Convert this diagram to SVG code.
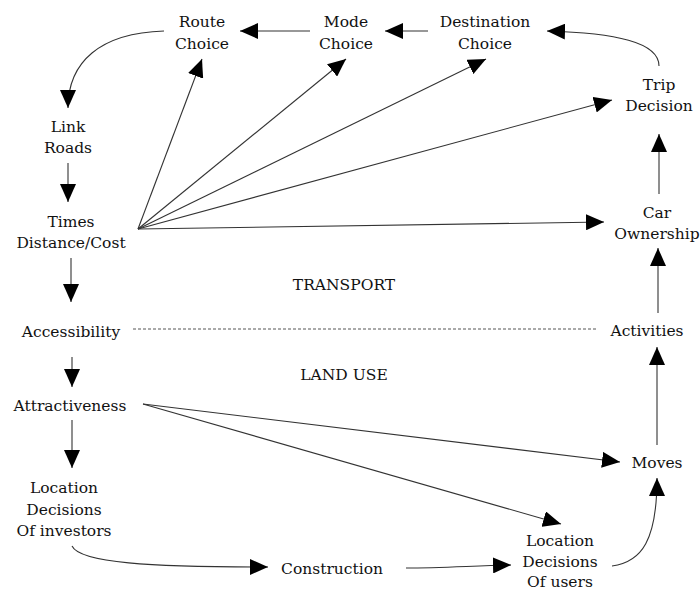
<svg xmlns="http://www.w3.org/2000/svg" width="700" height="591" viewBox="0 0 700 591">
  <style>
    text { font-family: "DejaVu Serif", "Liberation Serif", serif; font-size: 15.5px; fill: #111; text-anchor: middle; }
    .edge { fill: none; stroke: #333; stroke-width: 1.1; marker-end: url(#arrow); }
    .divider { fill: none; stroke: #555; stroke-width: 1; stroke-dasharray: 3 2; }
  </style>
  <defs>
    <marker id="arrow" markerUnits="userSpaceOnUse" markerWidth="18" markerHeight="16" refX="18" refY="8" orient="auto">
      <path d="M0,0 L18,8 L0,16 z" fill="#000"/>
    </marker>
  </defs>

  <rect width="700" height="591" fill="#fff"/>

  <!-- region labels -->
  <text x="344" y="290">TRANSPORT</text>
  <text x="344" y="380">LAND USE</text>

  <g id="connectors">
    <!-- boundary between transport and land use -->
    <line class="divider" x1="133" y1="329" x2="598" y2="329"/>

    <!-- transport chain -->
    <line class="edge" x1="310" y1="31" x2="240" y2="31"/>
    <line class="edge" x1="428" y1="31" x2="385" y2="31"/>
    <path class="edge" d="M659,66 C659,42 615,33 547,31"/>
    <path class="edge" d="M164,31 C100,33 68,62 68,108"/>
    <line class="edge" x1="68" y1="163" x2="68" y2="202"/>

    <!-- fan from times / distance / cost -->
    <line class="edge" x1="138" y1="229" x2="202" y2="59"/>
    <line class="edge" x1="138" y1="229" x2="346" y2="59"/>
    <line class="edge" x1="138" y1="229" x2="486" y2="59"/>
    <line class="edge" x1="138" y1="229" x2="612" y2="100"/>
    <line class="edge" x1="138" y1="229" x2="604" y2="222"/>

    <!-- land use chain -->
    <line class="edge" x1="71" y1="258" x2="71" y2="302"/>
    <line class="edge" x1="72" y1="357" x2="72" y2="387"/>
    <line class="edge" x1="72" y1="420" x2="72" y2="468"/>
    <line class="edge" x1="143" y1="404" x2="620" y2="462"/>
    <line class="edge" x1="143" y1="404" x2="561" y2="524"/>
    <path class="edge" d="M72,546 C80,563 150,567 268,567"/>
    <path class="edge" d="M406,568 C440,568 470,566 511,565"/>
    <path class="edge" d="M612,566 C642,562 657,540 657,478"/>
    <line class="edge" x1="657" y1="445" x2="657" y2="347"/>
    <line class="edge" x1="658" y1="313" x2="658" y2="248"/>
    <line class="edge" x1="659" y1="194" x2="659" y2="134"/>
  </g>

  <g id="route-choice"><text x="202" y="27">Route</text><text x="202" y="49">Choice</text></g>
  <g id="mode-choice"><text x="346" y="27">Mode</text><text x="346" y="49">Choice</text></g>
  <g id="destination-choice"><text x="485" y="27">Destination</text><text x="485" y="49">Choice</text></g>
  <g id="trip-decision"><text x="659" y="90">Trip</text><text x="659" y="111">Decision</text></g>
  <g id="car-ownership"><text x="657" y="218">Car</text><text x="657" y="239">Ownership</text></g>
  <g id="activities"><text x="647" y="336">Activities</text></g>
  <g id="moves"><text x="657" y="468">Moves</text></g>
  <g id="location-users"><text x="560" y="546">Location</text><text x="560" y="567">Decisions</text><text x="560" y="587">Of users</text></g>
  <g id="construction"><text x="332" y="574">Construction</text></g>
  <g id="location-investors"><text x="64" y="493">Location</text><text x="64" y="515">Decisions</text><text x="64" y="536">Of investors</text></g>
  <g id="attractiveness"><text x="70" y="411">Attractiveness</text></g>
  <g id="accessibility"><text x="71" y="337">Accessibility</text></g>
  <g id="times-distance-cost"><text x="71" y="227">Times</text><text x="71" y="248">Distance/Cost</text></g>
  <g id="link-roads"><text x="68" y="132">Link</text><text x="68" y="153">Roads</text></g>
</svg>
